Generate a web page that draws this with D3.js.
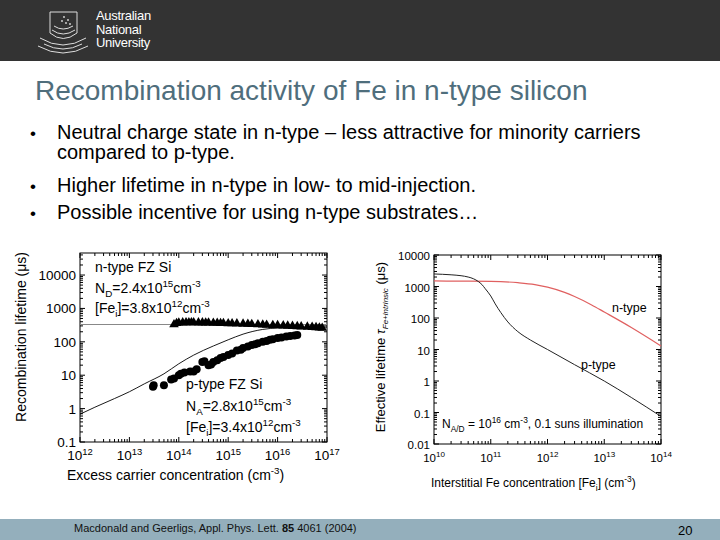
<!DOCTYPE html><html><head><meta charset="utf-8">
<script src="https://cdn.jsdelivr.net/npm/d3@7"></script>
<style>body{margin:0}svg{font-family:"Liberation Sans",Arial,sans-serif}</style></head><body>
<svg id="s" width="720" height="540"></svg>
<script>
// Left chart data
const nTriX=[8e13,9e13,1e14,1.2e14,1.4e14,1.6e14,1.8e14,2e14,2.5e14,3e14,3.5e14,4e14,5e14,6e14,7e14,8e14,1e15,1.2e15,1.5e15,2e15,2.5e15,3e15,4e15,5e15,6e15,8e15,1e16,1.3e16,1.6e16,2e16,2.5e16,3e16,4e16,5e16,6e16,7e16,8e16];
const nTriY=[330,360,370,375,378,380,380,378,376,375,372,370,368,365,360,358,355,352,350,345,340,335,330,325,320,315,310,305,300,295,290,285,280,275,270,265,260];
const pCircX=[3e13,3.1e13,5e13,7e13,8e13,1e14,1.1e14,1.3e14,1.7e14,2e14,2.3e14,3e14,3.3e14,4e14,4.5e14,5e14,6e14,7e14,8e14,1e15,1.2e15,1.5e15,1.8e15,2e15,2.5e15,3e15,3.5e15,4e15,5e15,6e15,7e15,8e15,1e16,1.2e16,1.5e16,1.8e16,2.2e16,2.5e16];
const pCircY=[4.5,5,5,7.5,8,10,11,12,13,13,15,25,26,20,21,25,28,33,35,40,45,55,58,65,72,80,85,90,100,105,115,120,130,135,145,150,155,160];
const fitX=[1e12,2e12,5e12,1e13,2e13,5e13,1e14,2e14,5e14,1e15,2e15,5e15,1e16,3e16,1e17];
const fitY=[0.68,1.1,2,3.2,5.5,11,22,40,75,115,170,235,260,270,275];
const nLine=330;
const leftXTicks=[1e12,1e13,1e14,1e15,1e16,1e17];
const leftYTicks=[0.1,1,10,100,1000,10000];
// Right chart data
const feX=[1e10,2e10,3e10,4e10,5e10,6e10,7e10,8e10,1e11,1.2e11,1.5e11,2e11,3e11,5e11,1e12,3e12,1e13,3e13,1e14];
const pTypeY=[2500,2350,2200,2000,1750,1450,1150,850,500,280,150,75,37,20,10,3.3,1,0.3,0.075];
const nFeX=[1e10,3e10,1e11,3e11,6e11,1e12,2e12,3e12,6e12,1e13,3e13,1e14];
const nTypeY=[1500,1480,1450,1320,1150,950,650,480,260,155,50,13];
const rightXTicks=[1e10,1e11,1e12,1e13,1e14];
const rightYTicks=[0.01,0.1,1,10,100,1000,10000];

const svg=d3.select("#s");
// header
svg.append("rect").attr("width",720).attr("height",61).attr("fill","#333333");
const logo=svg.append("g").attr("stroke","#ddd").attr("fill","none").attr("stroke-width",1);
logo.append("path").attr("d","M50,12 L77,12 L77,33 Q63,44 50,33 Z");
logo.append("path").attr("d","M40,38 Q63,52 86,38 M44,44 Q63,54 82,44 M52,30 Q63,38 75,30 M54,26 Q63,32 73,26");
logo.append("path").attr("d","M38,46 Q63,60 88,46");
[[64,17],[68,20],[66,23],[70,24],[62,21]].forEach(p=>svg.append("circle").attr("cx",p[0]).attr("cy",p[1]).attr("r",0.9).attr("fill","#ddd"));
const lt=svg.append("text").attr("fill","#fff").attr("font-size",13).attr("letter-spacing",-0.3);
["Australian","National","University"].forEach((t,i)=>lt.append("tspan").attr("x",96).attr("y",20+i*13.5).text(t));
// title
svg.append("text").attr("x",35).attr("y",100).attr("font-size",28).attr("fill","#4f6e7c").text("Recombination activity of Fe in n-type silicon");
// bullets
const bl=[["•",139,"Neutral charge state in n-type – less attractive for minority carriers"],["",159,"compared to p-type."],["•",192,"Higher lifetime in n-type in low- to mid-injection."],["•",219,"Possible incentive for using n-type substrates…"]];
bl.forEach(b=>{if(b[0])svg.append("text").attr("x",30).attr("y",b[1]).attr("font-size",17).text(b[0]);
 svg.append("text").attr("x",57).attr("y",b[1]).attr("font-size",20).text(b[2]);});
// footer
svg.append("rect").attr("y",519).attr("width",720).attr("height",21).attr("fill","#94afbc");
const ft=svg.append("text").attr("x",74).attr("y",532).attr("font-size",11).attr("fill","#111");
ft.append("tspan").text("Macdonald and Geerligs, Appl. Phys. Lett. ");ft.append("tspan").attr("font-weight","bold").text("85");ft.append("tspan").text(" 4061 (2004)");
svg.append("text").attr("x",678).attr("y",535).attr("font-size",13).text("20");

function supText(sel,parts,x,y,size,anchor){
  const t=sel.append("text").attr("x",x).attr("y",y).attr("font-size",size).attr("text-anchor",anchor||"start");
  parts.forEach(p=>{const ts=t.append("tspan").text(p[0]);
    if(p[1]==="sup")ts.attr("font-size",size*0.7).attr("dy",-size*0.4);
    else if(p[1]==="sub")ts.attr("font-size",size*0.7).attr("dy",size*0.3);
    else if(p[1]==="supback")ts.attr("dy",size*0.4);
    else if(p[1]==="subback")ts.attr("dy",-size*0.3);});
  return t;}
function logFrame(x,y,xt,yt,lblSize){
  const g=svg.append("g");
  const [x0,x1]=x.range(),[y0,y1]=y.range();
  g.append("rect").attr("x",x0).attr("y",y1).attr("width",x1-x0).attr("height",y0-y1).attr("fill","none").attr("stroke","#000").attr("stroke-width",1);
  const minor=(s)=>{const d=s.domain();const out=[];for(let e=Math.floor(Math.log10(d[0]));e<=Math.ceil(Math.log10(d[1]));e++)for(let m=1;m<10;m++){const v=m*Math.pow(10,e);if(v>=d[0]*0.999&&v<=d[1]*1.001)out.push([v,m===1]);}return out;};
  minor(x).forEach(([v,maj])=>{const L=maj?5:3;const px=x(v);
    g.append("line").attr("x1",px).attr("x2",px).attr("y1",y0).attr("y2",y0-L).attr("stroke","#000");
    g.append("line").attr("x1",px).attr("x2",px).attr("y1",y1).attr("y2",y1+L).attr("stroke","#000");});
  minor(y).forEach(([v,maj])=>{const L=maj?5:3;const py=y(v);
    g.append("line").attr("y1",py).attr("y2",py).attr("x1",x0).attr("x2",x0+L).attr("stroke","#000");
    g.append("line").attr("y1",py).attr("y2",py).attr("x1",x1).attr("x2",x1-L).attr("stroke","#000");});
  xt.forEach(v=>supText(g,[["10"],[String(Math.round(Math.log10(v))),"sup"]],x(v),y0+18,lblSize,"middle"));
  yt.forEach(v=>g.append("text").attr("x",x0-4).attr("y",y(v)+5).attr("text-anchor","end").attr("font-size",lblSize).text(String(v)));
}
// LEFT
const xL=d3.scaleLog().domain([1e12,1e17]).range([80,327]);
const yL=d3.scaleLog().domain([0.1,Math.pow(10,4.66)]).range([442,253]);
logFrame(xL,yL,leftXTicks,leftYTicks,13.5);
svg.append("line").attr("x1",xL(1e12)).attr("x2",xL(1e17)).attr("y1",yL(nLine)).attr("y2",yL(nLine)).attr("stroke","#888").attr("stroke-width",1.2);
svg.append("path").datum(fitX.map((v,i)=>[v,fitY[i]])).attr("fill","none").attr("stroke","#000").attr("stroke-width",0.9)
 .attr("d",d3.line().x(d=>xL(d[0])).y(d=>yL(d[1])).curve(d3.curveMonotoneX));
svg.append("g").selectAll("path").data(nTriX.map((v,i)=>[v,nTriY[i]])).join("path")
 .attr("transform",d=>`translate(${xL(d[0])},${yL(d[1])})`).attr("d",d3.symbol(d3.symbolTriangle,40)).attr("fill","#000");
svg.append("g").selectAll("circle").data(pCircX.map((v,i)=>[v,pCircY[i]])).join("circle")
 .attr("cx",d=>xL(d[0])).attr("cy",d=>yL(d[1])).attr("r",4).attr("fill","#000");
supText(svg,[["n-type FZ Si"]],95,272,14);
supText(svg,[["N"],["D","sub"],["=2.4x10","subback"],["15","sup"],["cm","supback"],["-3","sup"]],95,293,14);
supText(svg,[["[Fe"],["i","sub"],["]=3.8x10","subback"],["12","sup"],["cm","supback"],["-3","sup"]],95,313,14);
supText(svg,[["p-type FZ Si"]],186,389,14);
supText(svg,[["N"],["A","sub"],["=2.8x10","subback"],["15","sup"],["cm","supback"],["-3","sup"]],186,411,14);
supText(svg,[["[Fe"],["i","sub"],["]=3.4x10","subback"],["12","sup"],["cm","supback"],["-3","sup"]],186,432,14);
supText(svg,[["Excess carrier concentration (cm"],["-3","sup"],[")","supback"]],67,480,14);
supText(svg,[["Recombination lifetime (μs)"]],0,0,14,"middle").attr("transform","translate(26,337) rotate(-90)");
// RIGHT
const xR=d3.scaleLog().domain([1e10,1e14]).range([434,661]);
const yR=d3.scaleLog().domain([0.01,1e4]).range([444,255]);
logFrame(xR,yR,rightXTicks,rightYTicks,11.5);
svg.append("path").datum(nFeX.map((v,i)=>[v,nTypeY[i]])).attr("fill","none").attr("stroke","#e06060").attr("stroke-width",1.2)
 .attr("d",d3.line().x(d=>xR(d[0])).y(d=>yR(d[1])).curve(d3.curveMonotoneX));
svg.append("path").datum(feX.map((v,i)=>[v,pTypeY[i]])).attr("fill","none").attr("stroke","#222").attr("stroke-width",1)
 .attr("d",d3.line().x(d=>xR(d[0])).y(d=>yR(d[1])).curve(d3.curveMonotoneX));
svg.append("text").attr("x",612).attr("y",312).attr("font-size",12.5).text("n-type");
svg.append("text").attr("x",581).attr("y",369).attr("font-size",12.5).text("p-type");
supText(svg,[["N"],["A/D","sub"],[" = 10","subback"],["16","sup"],[" cm","supback"],["-3","sup"],[", 0.1 suns illumination","supback"]],442,428,12);
supText(svg,[["Interstitial Fe concentration [Fe"],["i","sub"],["] (cm","subback"],["-3","sup"],[")","supback"]],431,487,12);
const ry=svg.append("text").attr("font-size",13).attr("text-anchor","middle").attr("transform","translate(385,347) rotate(-90)");
ry.append("tspan").text("Effective lifetime ");ry.append("tspan").attr("font-style","italic").text("τ");
ry.append("tspan").attr("font-size",8).attr("font-style","italic").attr("dy",3).text("Fe+intrinsic");ry.append("tspan").attr("dy",-3).text(" (μs)");
</script></body></html>
